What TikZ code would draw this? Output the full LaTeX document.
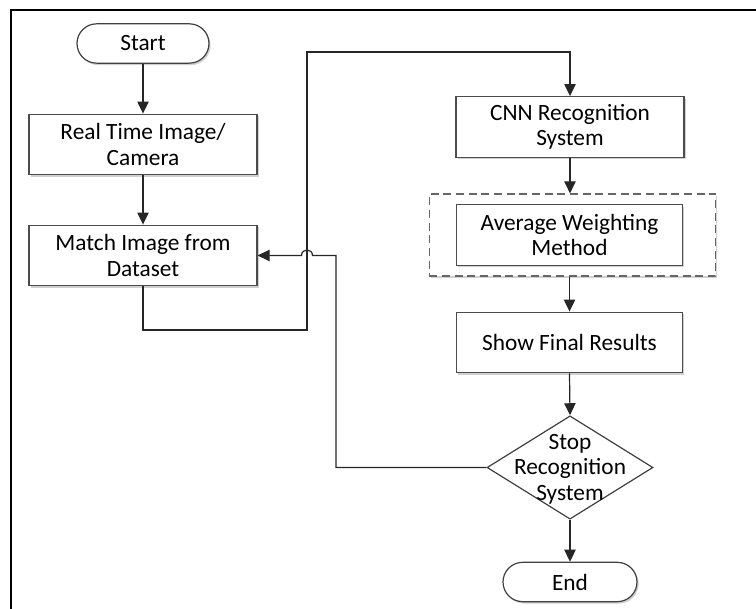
\documentclass[tikz,border=0pt]{standalone}
\usepackage{fontspec}
\setmainfont{Carlito}
\usetikzlibrary{shapes.geometric,shapes.misc,arrows.meta,shadows}
\begin{document}
\begin{tikzpicture}[x=0.75pt,y=-0.75pt,
  txt/.style={font=\fontsize{17.5}{19}\selectfont, text=black, align=center},
  softshadow/.style={drop shadow={shadow xshift=1.2pt, shadow yshift=-1.5pt, opacity=0.18, fill=black}},
  procbox/.style={txt, draw=black!70, line width=0.9pt, fill=white, minimum width=171pt, minimum height=45.5pt, inner sep=0pt, softshadow},
  pill/.style={txt, rounded rectangle, draw=black!75, line width=0.9pt, fill=white, minimum width=99pt, minimum height=29.5pt, inner sep=0pt, softshadow},
  decision/.style={diamond, draw=black!75, line width=0.9pt, fill=white, minimum width=124.5pt, minimum height=77.5pt, inner sep=0pt},
  groupbox/.style={draw=black!60, dashed, dash pattern=on 6pt off 3.5pt, line width=0.9pt, minimum width=215pt, minimum height=61.5pt, inner sep=0pt, softshadow, fill=white},
  conn/.style={draw=black!85, line width=0.9pt},
  arr/.style={conn, -{Triangle[width=8.5pt,length=9pt]}}
]
\useasboundingbox (0,0) rectangle (756,609);
\fill[white] (0,0) rectangle (756,609);
% frame
\draw[black, line width=0.9pt] (11,609) -- (11,10) -- (756,10);

% nodes
\node[pill] (start) at (143,43.5) {Start};
\node[procbox] (real) at (143,144.5) {Real Time Image/\\Camera};
\node[procbox] (match) at (143,255.5) {Match Image from\\Dataset};
\node[procbox] (cnn) at (570,127) {CNN Recognition\\System};
\node[groupbox] (group) at (572.5,235) {};
\node[procbox, minimum width=170pt] (avg) at (569.5,235) {Average Weighting\\Method};
\node[procbox, minimum width=170pt] (show) at (569.5,342.5) {Show Final Results};
\node[decision] (stop) at (570,467.5) {};
\node[txt, inner sep=0pt] (stoptext) at (570,469) {Stop\\Recognition\\System};
\node[pill, minimum width=100.5pt] (end) at (570,582) {End};

% helper coordinates
\coordinate (c1) at (307,330);
\coordinate (c2) at (307,52);
\coordinate (c3) at (336,255.5);
\coordinate (hopR) at (312.5,255.5);
\coordinate (hopL) at (301.5,255.5);

% connectors
\draw[arr] (start.south) -- (real.north);
\draw[arr] (real.south) -- (match.north);
\draw[arr] (match.south) |- (c1) -- (c2) -| (cnn.north);
\draw[arr] (cnn.south) -- (cnn.south |- group.north);
\draw[arr] (show.north |- group.south) -- (show.north);
\draw[arr] (show.south) -- (stop.north);
\draw[arr] (stop.south) -- (end.north);
\draw[arr] (stop.west) -| (c3) -- (hopR)
   .. controls ([yshift=5.5pt]hopR) and ([yshift=5.5pt]hopL) .. (hopL) -- (match.east);
\end{tikzpicture}
\end{document}
